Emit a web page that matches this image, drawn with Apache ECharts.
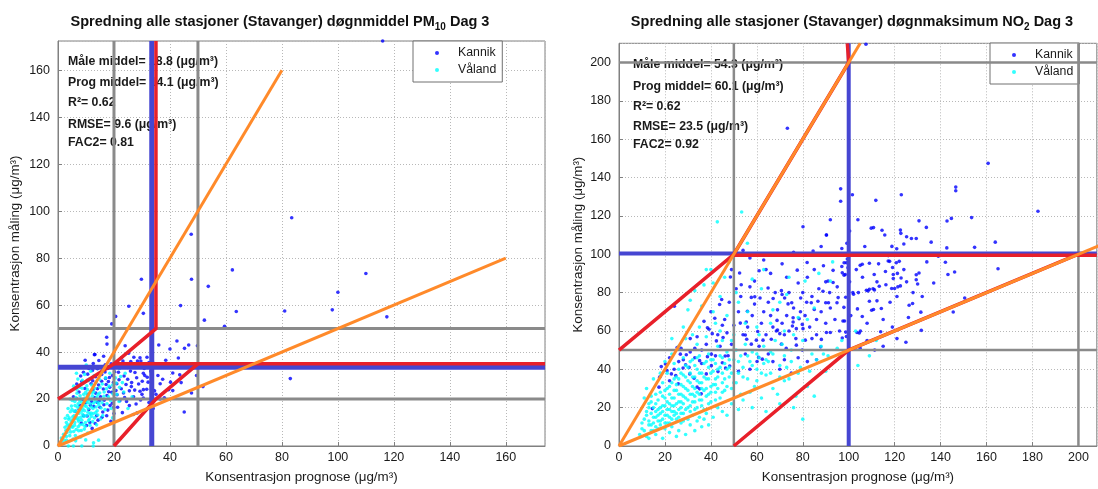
<!DOCTYPE html>
<html><head><meta charset="utf-8">
<script src="https://cdn.jsdelivr.net/npm/echarts@6/dist/echarts.min.js"></script>
<style>html,body{margin:0;padding:0;background:#fff}#c{width:1098px;height:489px}</style>
</head><body><div id="c"></div>
<script>
// ---------- DATA ----------
const xTicksStep = 20;
const pmTitle = ['Spredning alle stasjoner (Stavanger) døgnmiddel PM', '10', ' Dag 3'];
const no2Title = ['Spredning alle stasjoner (Stavanger) døgnmaksimum NO', '2', ' Dag 3'];
const xAxisName = 'Konsentrasjon prognose (μg/m³)';
const yAxisName = 'Konsentrasjon måling (μg/m³)';
const seriesNames = ['Kannik', 'Våland'];
const pmStats = ['Måle middel= 18.8 (μg/m³)', 'Prog middel= 14.1 (μg/m³)', 'R²= 0.62', 'RMSE= 9.6 (μg/m³)', 'FAC2= 0.81'];
const no2Stats = ['Måle middel= 54.3 (μg/m³)', 'Prog middel= 60.1 (μg/m³)', 'R²= 0.62', 'RMSE= 23.5 (μg/m³)', 'FAC2= 0.92'];
const pmRange = [174, 172.5];
const no2Range = [208, 210];

const pmKannik = [[116,172.5],[83.5,97.2],[47.6,90.2],[110,73.5],[62.3,75],[100,65.5],[47.7,71],[29.8,71],[53.7,68],[43.8,59.8],[25.3,59.5],[63.7,57.3],[30.5,56.5],[81,57.5],[98,58],[117.5,55],[52.3,53.6],[20.6,55.2],[19.2,52],[59.5,51],[83,28.7],[17.4,46.3],[17.5,43.4],[13.2,39],[24,42.7],[36,43],[42.5,44.7],[40,41.3],[45.2,41.6],[46.7,43],[49.8,42.7],[43,37.5],[41,31.1],[43.5,30.3],[41,23.6],[47.7,22.6],[49.5,30],[51.8,25.3],[45.1,14.5],[27.1,37.8],[28.4,36.2],[29.6,36.2],[30.5,31],[31,30],[30,22],[30.5,24],[27,21],[34.5,23.5],
[13,38.9],[12.6,35.1],[9.1,31.4],[6.7,26.4],[14.1,32.9],[15.6,30.5],[17,28.8],[18,27.5],[16.2,24.3],[19.2,22.9],[20.7,23.6],[22.1,19.3],[18.6,17.2],[17.4,12.9],[15,16.5],[13.8,12.9],[11.4,10],[10.2,8.7],[9.1,12.9],[7.9,17.2],[6.7,20.1],[5.5,21],[23.6,29.8],[24.3,26.2],[23.4,22.6],[25.9,31.9],[28.1,29.1],[27.5,31.3],[29.3,23.3],[27.9,17.9],[28.3,14.1],[26.9,13.4],[31.7,24.2],[30.5,20.4],[22.1,34.2],[21.6,31.4],[19.5,30],[22.7,37.6],[29.3,37.6],[31.9,29.3],[33.8,24.2],[10.5,28],[11.8,26.5],[12.5,24],[13.5,22.5],[14.5,26],[15.2,21],[16.5,19.5],[17.5,21.5],[18.5,25],[19.8,27],[20.5,20],[21.3,16.5],[12,19],[10.8,22],[9.6,24.5],[8.5,27.5],[7.5,23],[11,15.5],[12.8,16.8],[14,18.6],[16,14.5],[18.9,10.5],[20,13.8],[24.5,19],[25.5,23.5],[26.3,27],[23,14.2],[15.5,33.5],[17.8,33],[19,35],[9.7,36.5],[11,33],[13.4,29.5],[16.8,31.5],[21,26.5],[24.8,33.5],[14.3,11],[12.2,7.5],[8.3,9.8],[26,36],[30.8,33],[32.5,35.5],[35.7,30],[38.5,36.5],[39.5,24],[38,20.5],[44,27],[35,22],[36.5,26.5],
[6.2,14.8],[7.6,15.6],[8.8,19.8],[9.9,18.4],[10.4,12.8],[11.6,17.4],[12.4,27.8],[13.2,20.6],[14.1,24.4],[14.8,19.4],[15.6,27.6],[16.4,17.6],[17.2,26.2],[18.1,23.1],[19.4,18.2],[20.2,31.6],[21.8,28.2],[22.6,24.4],[23.8,20.6],[24.9,28.4],[26.2,25.3],[27.4,23.8],[28.8,26.4],[30.1,27.6],[32.2,27.2],[33.2,31.8],[34.4,35.1],[36.8,34.2],[37.4,28.4],[40.2,27.2],[8.1,29.8],[9.4,33.6],[10.6,30.6],[12.3,32.2],[14.6,36.4],[16.3,38.2],[18.4,29.2],[13.3,9.6],[15.7,12.2],[17.8,15.3],[19.9,16.4],[21.1,21.8],[16.9,34.6],[25.2,39.5],[23.2,36.2],[31.8,37.8],[36.5,20],[34,16],[32.5,18.5],[25.5,17.2],[29.5,19.6]];

const pmVaaland = [[3.7,0],[5.5,0],[8.5,0],[12.6,0],[12.7,1.4],[2,5],[3,4],[3.5,7],[4,9],[4.5,6],[5,11],[5.2,8],[5.8,13],[6,10],[6.3,15],[6.5,7],[7,12],[7.2,18],[7.5,14],[7.8,9],[8,16],[8.2,20],[8.5,11],[8.8,13.5],[9,17.5],[9.2,22],[9.5,15],[9.8,10],[10,19],[10.2,13],[10.5,24],[10.8,16],[11,21],[11.2,11.5],[11.5,18],[11.8,14],[12,26],[12.2,20],[12.5,16],[12.8,23],[13,12],[13.3,19],[13.6,27],[14,15],[14.3,22],[14.6,17.5],[15,25],[15.5,20],[16,13],[16.5,23],[17,29],[17.5,18],[18,21],[18.5,31],[19,16],[19.5,26],[20.5,29],[21,22],[22,33],[23,27],[24,31],[6,19],[5,15.5],[4,12],[3,10],[6.8,22.5],[7.7,25],[8.7,28],[9.5,30.5],[4.8,17],[2.5,8],[2.2,2.5],[3.4,13],[6.2,4.5],[7.4,6.5],[8.1,3.8],[9.4,7.2],[10.6,5.5],[11.4,8.8],[12.4,10.4],[13.8,9],[15.2,11.5],[16.8,15.5],[5.6,25.5],[7.1,28.5],[10.9,27.8],[12.9,30],[14.8,28.3],[16.2,32],[18.2,25.5],[20,24],[21.8,19],[23.5,23],[25,16],[26.5,21],[10.1,34.5],[6.6,31],[11.7,31.8],[4.3,20],[3.6,16],[5.4,3],[9.9,2.6],[1.5,1.5],
[3.2,5.8],[4.1,7.4],[4.7,10.2],[5.3,12.4],[5.9,8.8],[6.4,11.6],[6.9,14.2],[7.3,10.6],[7.6,16.4],[8.1,12.2],[8.4,18.6],[8.9,15.8],[9.3,12.6],[9.6,20.4],[10.1,16.8],[10.4,21.8],[10.7,14.4],[11.1,19.6],[11.6,23.2],[11.9,16.6],[12.3,21.4],[12.7,18.2],[13.1,24.6],[13.5,14.2],[13.9,20.8],[14.4,18.4],[14.9,22.6],[15.4,16.2],[15.8,26.4],[6.1,17.2],[5.1,19.4],[4.4,14.6],[3.8,11.4],[7.9,21.4],[8.6,24.6],[9.1,26.8],[6.7,24.2],[7.2,8.2],[8.3,6.6],[9.7,8.4],[10.9,10.8],[11.9,12.6],[12.6,13.8],[5.6,6.2],[4.2,4.4],[2.8,6.6],[3.3,8.8],[2.6,11.8],[6.4,20.6],[7.8,19.2],[9.9,22.9],[10.3,25.6],[11.3,28.6],[12.1,22.8],[13.6,16.6],[14.2,13.2],[15.7,18.4],[16.4,21.2],[17.3,24.4],[18.8,19.4],[19.6,22.2],[20.8,26.8],[22.4,29.6],[5.7,14.8],[6.9,16.6],[8.4,14.8],[9.6,17.2],[10.6,18.4],[11.4,13.6],[7.4,11.2],[8.8,9.2],[4.9,8.4],[3.1,2.4],[2.4,4.6],[1.2,3.4],[6.3,2.2],[14.5,2.5],[19.5,12],[22,25]];

const no2Kannik = [[107.5,209.5],[73.3,165.7],[160.7,147.4],[146.6,135],[146.6,133.1],[182.4,122.4],[122.9,131],[111.8,128.1],[101.6,131],[96.5,134.1],[96.5,127.6],[130.6,117.4],[133.8,114],[142.8,117.3],[144.7,118.7],[153.5,119.1],[163.8,106.3],[154.8,103.6],[142.7,103.3],[135.9,106.3],[127.3,108.2],[129.4,108.2],[125.2,109.1],[122.5,112.6],[122.7,110.9],[114.5,112.5],[115.7,110],[109.8,113.6],[110.8,113.9],[118.8,104.1],[120.9,102.9],[124,105.3],[100.4,112.1],[99.2,105.7],[90.3,110],[142.1,95.8],[165,92.4],[146.1,90.7],[143.2,89.4],[150.5,77.2],[145.5,69.9],[131.4,69.8],[127.8,74.3],[126.3,73.4],[131.6,60.3],[124.9,54.1],[113.9,59.6],[111.3,50],[130.6,90.2],[129.4,89.3],[129.4,86.7],[130,84.5],[125.2,85.6],[122.8,87.6],[122.5,83.5],[119.4,87.3],[118.7,82.1],[119.4,89.4],[121.2,90],[117.8,96.3],[119.1,93.1],[120.7,95.6],[122,96.3],[121.4,83],[120,82.1],[117.2,99.3],[111.1,89.4],[112.3,85.6],[113.3,83.3],[116.2,84.1],[111.2,81.4],[110.6,82],[109,81.7],[108.4,80.8],[107.7,81.2],[109,75.5],[110,70.8],[110.8,71.2],[114.2,71.7],[112.3,75.7],[116,91],[117.2,96.5],[109,95.3],[105,94.2],[105.9,94.8],[103.3,92],[99.4,97.5],[97,93.6],[100.4,85.6],[101.8,80],[102.1,79.1],[104.2,80],[103.8,71.5],[105.9,67.5],[105.1,60],[103.6,59.2],[104.6,58.9],[100.9,68],[98.7,77.6],[97.9,72.3],[97.5,65.2],[98.2,65.2],[97.2,56.3],[98.7,59.4],[99,57.1],[98.5,89.4],[97.2,90.3],[98,89.1],[98,95.6],[99,95.6],[99.7,93],[93.2,91.6],[93.2,85.3],[91.7,80],[95.4,77.4],[94.9,74.7],[91.2,74.7],[90,74.7],[88.8,80.7],[90,85.6],[92,59.2],[90.3,59.2],[88.1,55.6],[87.8,51.7],
[80.1,114.3],[90.3,110],[84.5,101.7],[81.9,95.7],[77.6,91.7],[52.5,90.2],[53.2,84.1],[61,91.4],[61.4,77.2],[59.1,77.8],[57.6,77.5],[55.9,70.3],[55.4,64.7],[52.8,64.1],[64.9,82.4],[67.1,76.9],[68.8,65.5],[70.7,81],[71,79],[72.1,77.2],[73.6,74.1],[75.2,74.7],[75.8,66.9],[75.8,64.7],[75.5,62.6],[77.2,61.2],[78.4,66.4],[79.1,77.2],[79.8,63.4],[80.1,61.2],[81.7,75],[83.7,74.7],[85,71.2],[86.6,75.5],[81.1,55.2],[79.8,50],[77.2,52.6],[72.8,50.9],[70.7,53.1],[70,58.6],[68.5,60],[66.3,55.7],[62.7,55.2],[60.4,59.7],[59.8,55.2],[60.8,46.2],[62.4,45.3],[60.1,44.1],[57.6,53.1],[55.6,55.7],[55,57.9],[48.5,88.1],[43.8,73.8],[44.7,76.4],[41.7,66.6],[39.2,60.9],[38.5,61.7],[40.6,58.6],[42.4,54.8],[45.3,56.6],[46.2,46.9],[45,43.4],[46.4,40.7],[48.2,41.7],[43.1,38.8],[40.2,47.9],[38,37.6],[35.1,44.5],[30.5,41],[29,42.4],[29.3,47.6],[25.3,51.4],[24.1,72.9],[26.7,47.9],[20.2,42.8],[18.4,41.4],[17.7,35.9],[17.4,30.7],[14.5,19.5],[20.9,39.3],[22.8,37.6],[24.7,36.7],[25.8,32.4],[27.9,40.7],[30.8,37.6],[32.7,35.3],[34,30.7],[35.1,29.8],[35.8,27.2],[38.5,46.6],[40.2,41.9],[47.5,47.1],[54,102],[57,98],[64,92],[71,95],[69,60.5],[74,60],[65,48],[70,40],[75,38],[82,44],[86,45],[57,40],[52,39],[49,53],[45,63],[38,53],[36,50],[33,51],[31,56],[27,51],[22,46],
[52,70],[54,58],[56,62],[58,68],[59,74],[61,52],[62,64],[63,70],[64,58],[65,75],[66,68],[67,62],[68,80],[69,71],[71,64],[72,58],[73,68],[74,80],[76,72],[77,56],[78,85],[79,70],[80,80],[81,68],[82,88],[83,62],[84,78],[85,92],[86,66],[87,82],[88,70],[89,94],[90,64],[91,86],[92,72],[93,100],[94,66],[95,83],[96,60],[97,103],[84,56],[86,58],[73,88],[66,90],[59,86],[63,97],[76,101],[88,104],[92,118],[104,118],[107,104],[113,95],[106,88],[108,64],[115,66],[118,75],[121,78],[124,92],[127,100],[128,80],[132,78],[134,96],[137,85],[139,99],[126,67],[119,62],[115,52],[121,56],[105,51],[108,55],[72,45],[78,46],[67,44],[55,48],[50,63],[47,59],[44,52],[42,47],[36,43],[33,46],[31,49],[28,45],[26,44],[24,40],[22,34],[34,57],[37,65],[40,70],[43,58],[46,66],[48,75],[51,82],[49,92],[53,78],[57,83],[60,100]];

const no2Vaaland = [[9,6],[11,14],[12,5],[13,11],[14,8],[14,17],[15,12],[15,20],[16,10],[16,15],[17,13],[17,19],[17,24],[18,11],[18,17],[18,28],[19,14],[19,21],[19,33],[20,9],[20,16],[20,25],[21,12],[21,19],[21,30],[21,38],[22,15],[22,22],[22,27],[23,10],[23,18],[23,33],[24,21],[24,25],[24,43],[25,14],[25,29],[25,36],[26,19],[26,23],[26,40],[27,12],[27,27],[27,32],[28,17],[28,22],[28,37],[28,46],[29,25],[29,30],[30,14],[30,20],[30,34],[30,41],[31,27],[31,38],[32,16],[32,23],[32,31],[32,45],[33,19],[33,36],[34,28],[34,40],[35,15],[35,24],[35,33],[35,47],[36,21],[36,38],[37,29],[37,43],[38,17],[38,26],[38,35],[39,41],[39,48],[40,23],[40,31],[40,38],[41,15],[41,45],[42,28],[42,35],[43,40],[43,52],[44,25],[44,47],[45,33],[45,38],[46,29],[46,43],[47,49],[48,36],[48,41],[49,22],[49,55],[50,45],[51,33],[51,50],[52,38],[53,27],[53,47],[54,41],[55,53],[56,35],[57,44],[58,49],[59,31],[60,40],[61,46],[62,25],[63,52],[64,37],[65,44],[66,49],[67,30],[68,55],[70,42],[72,47],[74,35],[75,50],[77,26],[79,41],[80,14],[82,31],[84,48],[86,45],[88,52],[89,48],[104,42],[90,39],[95,51],[78,67],[72,60],[66,64],[60,62],[56,70],[52,75],[47,68],[44,78],[41,85],[38,92],[35,62],[32,58],[29,56],[26,52],[23,48],[41,70],[36,73],[31,76],[46,88],[42.8,116.9],[53.4,122],[55.9,105.7],[40,92],[48,96],[51,80],[62,82],[70,75],[76,58],[82,66],[85,72],[92,86],[74,88],[63,92],[58,87],[34,53],[38,57],[44,60],[50,58],[55,64],[42,64],[18,38],[16,27],[13,22],[11,25],[12,30],[15,35],[20,44],[23,56],[28,62],[30,71],[33,81],[37,84],[45,55],[61,58],[67,71],[71,53],[73,79],[81,86],[87,90],[93,96],[80,55],[83,39],[76,20],[70,22],[64,18],[58,20],[54,24],[47,16],[43,20],[39,11],[36,10],[33,8],[29,6],[25,5],[22,7],[19,4],[26,8],[31,11],[34,13],[37,14],[16,6],[13,4],[10,9],[12,18],[14,26],[24,16],[27,20],[31,18],[33,26],[36,30],[39,27],[42,32],[45,18],[49,30],[52,19],[57,28],[60,34],[63,43],[66,38],[69,27],[72,34],[75,44],[78,38],[85,26],[91,47],[97,55],[103,60],[109,47],[112,55],
[10,12],[11,8],[12,16],[13,13],[13,20],[14,11],[14,23],[15,15],[15,8],[16,18],[16,22],[17,9],[17,16],[18,20],[18,13],[19,18],[19,26],[20,12],[20,21],[20,29],[21,16],[21,23],[22,12],[22,19],[22,31],[23,14],[23,25],[23,21],[24,18],[24,29],[24,35],[25,22],[25,17],[25,32],[26,27],[26,15],[26,35],[27,23],[27,17],[27,38],[28,26],[28,31],[28,13],[29,19],[29,36],[29,42],[30,24],[30,29],[31,21],[31,33],[31,44],[32,27],[32,36],[33,23],[33,30],[33,42],[34,20],[34,34],[34,46],[35,27],[35,38],[36,24],[36,33],[37,19],[37,36],[38,30],[38,44],[39,22],[39,35],[40,28],[40,45],[41,32],[41,39],[42,24],[42,43],[43,30],[43,36],[44,41],[45,28],[45,46],[46,35],[47,40],[47,31],[48,45],[49,38],[50,33],[50,50],[52,44],[54,36],[56,47],[58,42],[60,48],[62,38],[64,45],[67,48],[70,36],[73,41]];

// reference lines (data coordinates)
const pmGray = [[[20,0],[20,172.5]],[[50,0],[50,172.5]],[[0,20],[174,20]],[[0,50],[174,50]]];
const pmBlue = [[[33.5,0],[33.5,172.5]],[[0,33.5],[174,33.5]]];
const pmRed = [[[0,20],[20,35],[35,50],[35,172.5]],[[20,0],[35,20],[50,35]],[[20,35],[174,35]]];
const pmOrange = [[[0,0],[80,160]],[[0,0],[160,80]]];
const no2Gray = [[[50,0],[50,210]],[[200,0],[200,210]],[[0,50],[208,50]],[[0,200],[208,200]]];
const no2Blue = [[[100,0],[100,210]],[[0,100.4],[208,100.4]]];
const no2Red = [[[0,50],[50,100],[100,200],[99.4,210]],[[50,0],[100,50],[200,100]],[[50,99.5],[208,99.5]]];
const no2Orange = [[[0,0],[105,210]],[[0,0],[210,105]]];

// ---------- CHART ----------
const FONT = 'Liberation Sans, Arial, sans-serif';
const chart = echarts.init(document.getElementById('c'), null, {renderer: 'canvas'});

function axisX(gi, max, name) {
  return {
    gridIndex: gi, type: 'value', min: 0, max: max, interval: xTicksStep,
    name: name, nameLocation: 'middle', nameGap: 25,
    nameTextStyle: {fontFamily: FONT, fontSize: 13.4, color: '#1a1a1a'},
    axisLine: {show: true, onZero: false, lineStyle: {color: '#808080', width: 1}},
    axisTick: {show: true, inside: true, length: 4, lineStyle: {color: '#808080'}},
    axisLabel: {fontFamily: FONT, fontSize: 12.5, color: '#1a1a1a', margin: 5, showMaxLabel: false,
      formatter: v => (v % xTicksStep === 0 ? String(v) : '')},
    splitLine: {show: true, lineStyle: {type: [1, 2], color: '#b8b8b8', width: 1}}
  };
}
function axisY(gi, max, name, gap) {
  const a = axisX(gi, max, name);
  a.nameGap = gap;
  a.nameRotate = 90;
  a.axisLabel.margin = 8;
  return a;
}
function lineSeries(lines, xi, color, width, z) {
  return lines.map(pts => ({
    type: 'line', xAxisIndex: xi, yAxisIndex: xi, data: pts, showSymbol: false, symbol: 'none',
    silent: true, z: z, lineStyle: {color: color, width: width, cap: 'butt', join: 'miter'},
    clip: true, animation: false
  }));
}
function scatter(name, data, xi, color) {
  return {type: 'scatter', name: name, xAxisIndex: xi, yAxisIndex: xi, data: data,
    symbol: 'circle', symbolSize: 3.6, itemStyle: {color: color}, z: 3, clip: true};
}
function statTexts(lines, x, ys) {
  return lines.map((t, i) => ({type: 'text', x: x, y: ys[i], z: 1, silent: true,
    style: {text: t, font: 'bold 12.3px ' + FONT, fill: '#1a1a1a', verticalAlign: 'middle'}}));
}
function legend(left, top) {
  return {left: left, top: top, orient: 'vertical', data: seriesNames, backgroundColor: '#fff',
    borderColor: '#707070', borderWidth: 1, borderRadius: 0, padding: [6, 6, 6, 22], itemGap: 5,
    itemWidth: 4, itemHeight: 4, icon: 'circle', selectedMode: false, z: 2,
    textStyle: {fontFamily: FONT, fontSize: 12.3, color: '#1a1a1a', padding: [0, 0, 0, 14]}};
}
const titleRich = {sub: {fontFamily: FONT, fontSize: 10, fontWeight: 'bold', color: '#111', padding: [10, 0, 0, 0]}};
function title(parts, cx) {
  return {text: parts[0] + '{sub|' + parts[1] + '}' + parts[2], left: cx, top: 7, textAlign: 'center',
    textStyle: {fontFamily: FONT, fontSize: 14.5, fontWeight: 'bold', color: '#111', rich: titleRich}};
}

const option = {
  animation: false,
  backgroundColor: '#fff',
  title: [title(pmTitle, 275), title(no2Title, 847)],
  legend: [legend(413, 41), legend(990, 43)],
  grid: [
    {left: 58, top: 41, width: 487, height: 406.4, show: true, borderColor: '#808080', borderWidth: 1, containLabel: false},
    {left: 619, top: 43.3, width: 477.8, height: 406, show: true, borderColor: '#808080', borderWidth: 1, containLabel: false}
  ],
  xAxis: [axisX(0, pmRange[0], xAxisName), axisX(1, no2Range[0], xAxisName)],
  yAxis: [axisY(0, pmRange[1], yAxisName, 36), axisY(1, no2Range[1], yAxisName, 34)],
  graphic: [].concat(statTexts(pmStats, 68, [62, 83, 103, 125, 143]), statTexts(no2Stats, 633, [65, 87, 107, 127, 145])),
  series: [].concat(
    scatter(seriesNames[0], pmKannik, 0, '#0000ff'),
    scatter(seriesNames[1], pmVaaland, 0, '#00ffff'),
    scatter(seriesNames[0], no2Kannik, 1, '#0000ff'),
    scatter(seriesNames[1], no2Vaaland, 1, '#00ffff'),
    lineSeries(pmGray, 0, '#8a8a8a', 3, 5), lineSeries(pmBlue, 0, '#4646d2', 5, 6),
    lineSeries(pmRed, 0, '#e8202a', 3.5, 7), lineSeries(pmOrange, 0, '#ff8a2a', 3, 8),
    lineSeries(no2Gray, 1, '#8a8a8a', 2.5, 5), lineSeries(no2Blue, 1, '#4646d2', 4, 6),
    lineSeries(no2Red, 1, '#e8202a', 3.5, 7), lineSeries(no2Orange, 1, '#ff8a2a', 3, 8)
  )
};
chart.setOption(option);
</script></body></html>
